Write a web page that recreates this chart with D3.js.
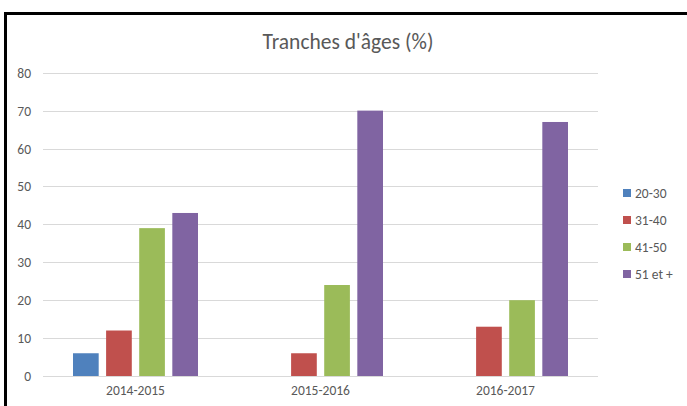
<!DOCTYPE html>
<html>
<head>
<meta charset="utf-8">
<script src="https://cdn.jsdelivr.net/npm/d3@7"></script>
<style>
  body { margin: 0; background: #fff; }
  text { font-family: Calibri, Carlito, "Open Sans", sans-serif; fill: #595959; }
</style>
</head>
<body>
<div id="chart"></div>
<script>
// data
var years = ["2014-2015", "2015-2016", "2016-2017"];
var ageGroups = ["20-30", "31-40", "41-50", "51 et +"];
var s2030 = [6, 0, 0];
var s3140 = [12, 6, 13];
var s4150 = [39, 24, 20];
var s51 = [43, 70, 67];
var yTicks = [0, 10, 20, 30, 40, 50, 60, 70, 80];
var colours = ["#4F81BD", "#C0504D", "#9BBB59", "#8064A2"];

var seriesValues = [s2030, s3140, s4150, s51];

var width = 687, height = 406;

var svg = d3.select("#chart").append("svg")
    .attr("width", width)
    .attr("height", height);

// frame (only top and left edges are visible)
svg.append("path")
    .attr("d", "M5.5,406 L5.5,13.5 L687,13.5")
    .style("fill", "none")
    .style("stroke", "#000")
    .style("stroke-width", 3);

// title
svg.append("text")
    .attr("x", 348)
    .attr("y", 49)
    .attr("text-anchor", "middle")
    .style("font-size", "21.5px")
    .text("Tranches d'âges (%)");

// scales
var x0 = d3.scaleBand().domain(years).range([43, 598]);
var x1 = d3.scaleBand().domain(ageGroups)
    .range([30, x0.bandwidth() - 30])
    .paddingInner(0.224);
var y = d3.scaleLinear().domain([0, 80]).range([376, 72.7]);

// gridlines
svg.append("g")
  .selectAll("line")
    .data(yTicks)
  .enter().append("line")
    .attr("x1", 43)
    .attr("x2", 598)
    .attr("y1", function(d) { return Math.round(y(d)) + 0.5; })
    .attr("y2", function(d) { return Math.round(y(d)) + 0.5; })
    .style("stroke", "#D9D9D9")
    .style("stroke-width", 1);

// y axis labels
svg.append("g")
  .selectAll("text")
    .data(yTicks)
  .enter().append("text")
    .attr("x", 31)
    .attr("y", function(d) { return y(d) + 5; })
    .attr("text-anchor", "end")
    .style("font-size", "13.5px")
    .text(function(d) { return d; });

// bars
var groups = svg.append("g")
  .selectAll("g")
    .data(years)
  .enter().append("g")
    .attr("transform", function(d) { return "translate(" + x0(d) + ",0)"; });

groups.selectAll("rect")
    .data(function(d, i) {
      return ageGroups.map(function(k, j) {
        return {key: k, value: seriesValues[j][i], colour: colours[j]};
      }).filter(function(e) { return e.value > 0; });
    })
  .enter().append("rect")
    .attr("x", function(d) { return x1(d.key); })
    .attr("y", function(d) { return y(d.value); })
    .attr("width", x1.bandwidth())
    .attr("height", function(d) { return y(0) - y(d.value); })
    .style("fill", function(d) { return d.colour; });

// x axis labels
svg.append("g")
  .selectAll("text")
    .data(years)
  .enter().append("text")
    .attr("x", function(d) { return x0(d) + x0.bandwidth() / 2; })
    .attr("y", 395)
    .attr("text-anchor", "middle")
    .style("font-size", "13.5px")
    .text(function(d) { return d; });

// legend
var legend = svg.append("g")
  .selectAll("g")
    .data(ageGroups)
  .enter().append("g")
    .attr("transform", function(d, i) { return "translate(623," + (193 + i * 27) + ")"; });

legend.append("rect")
    .attr("x", 0)
    .attr("y", -4)
    .attr("width", 8)
    .attr("height", 8)
    .style("fill", function(d, i) { return colours[i]; });

legend.append("text")
    .attr("x", 12)
    .attr("y", 5)
    .style("font-size", "13.5px")
    .text(function(d) { return d; });
</script>
</body>
</html>
